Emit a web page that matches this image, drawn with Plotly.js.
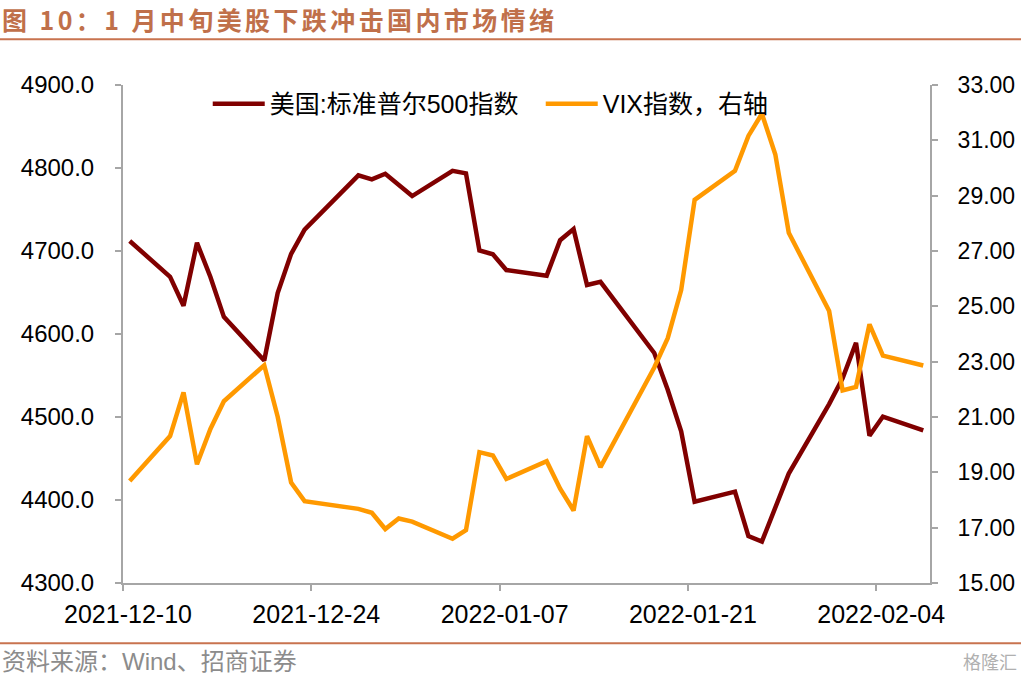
<!DOCTYPE html>
<html>
<head>
<meta charset="utf-8">
<script src="https://cdn.plot.ly/plotly-3.0.1.min.js"></script>
<style>html,body{margin:0;padding:0;background:#fff;}#chart{width:1021px;height:676px;}</style>
</head>
<body>
<div id="chart"></div>
<script>
// Trading days shown in the chart
const dates = [
  '2021-12-10','2021-12-13','2021-12-14','2021-12-15','2021-12-16','2021-12-17',
  '2021-12-20','2021-12-21','2021-12-22','2021-12-23','2021-12-27','2021-12-28',
  '2021-12-29','2021-12-30','2021-12-31','2022-01-03','2022-01-04','2022-01-05',
  '2022-01-06','2022-01-07','2022-01-10','2022-01-11','2022-01-12','2022-01-13',
  '2022-01-14','2022-01-18','2022-01-19','2022-01-20','2022-01-21','2022-01-24',
  '2022-01-25','2022-01-26','2022-01-27','2022-01-28','2022-01-31','2022-02-01',
  '2022-02-02','2022-02-03','2022-02-04','2022-02-07'
];
// 美国:标准普尔500指数 (left axis)
const spx = [
  4712.02, 4668.97, 4634.09, 4709.85, 4668.67, 4620.64,
  4568.02, 4649.23, 4696.56, 4725.79, 4791.19, 4786.35,
  4793.06, 4778.73, 4766.18, 4796.56, 4793.54, 4700.58,
  4696.05, 4677.03, 4670.29, 4713.07, 4726.35, 4659.03,
  4662.85, 4577.11, 4532.76, 4482.73, 4397.94, 4410.13,
  4356.45, 4349.93, null, 4431.85, 4515.55, 4546.54,
  4589.38, 4477.44, 4500.53, 4483.87
];
// VIX指数 (right axis)
const vix = [
  18.69, 20.31, 21.89, 19.29, 20.57, 21.57,
  22.87, 21.01, 18.63, 17.96, 17.68, 17.54,
  16.95, 17.33, 17.22, 16.60, 16.91, 19.73,
  19.61, 18.76, 19.40, 18.41, 17.62, 20.31,
  19.19, 22.79, 23.85, 25.59, 28.85, 29.90,
  31.16, 31.96, 30.49, 27.66, 24.83, 21.96,
  22.09, 24.35, 23.22, 22.86
];
const tickDates = ['2021-12-10','2021-12-24','2022-01-07','2022-01-21','2022-02-04'];
const seriesNames = ['美国:标准普尔500指数', 'VIX指数，右轴'];
const titleText = '图 10：1 月中旬美股下跌冲击国内市场情绪';
const sourceText = '资料来源：Wind、招商证券';

// points sit in the middle of each day slot (Excel date-axis style)
const xMid = dates.map(d => d + ' 12:00');

const numFont = 'Liberation Sans, Arial, Noto Sans CJK SC, sans-serif';
const cjkFont = 'Liberation Sans, Noto Sans CJK SC, sans-serif';
const axisGray = '#A6A6A6';

const traces = [
  {x: xMid, y: spx, name: seriesNames[0], type: 'scatter', mode: 'lines',
   connectgaps: true, line: {color: '#800000', width: 4.5}, yaxis: 'y'},
  {x: xMid, y: vix, name: seriesNames[1], type: 'scatter', mode: 'lines',
   line: {color: '#FF9900', width: 4.5}, yaxis: 'y2'}
];

const layout = {
  width: 1021, height: 676,
  margin: {l: 123, r: 91, t: 85, b: 93, pad: 0},
  paper_bgcolor: '#fff', plot_bgcolor: '#fff',
  showlegend: true,
  title: {
    text: '<span style="letter-spacing:3.4px">' + titleText + '</span>',
    xref: 'container', x: 0.002, xanchor: 'left',
    yref: 'container', y: 0.969, yanchor: 'middle',
    font: {family: 'Noto Sans CJK SC, sans-serif', size: 25, color: '#C0704A', weight: 700}
  },
  legend: {
    orientation: 'h', x: 0.105, xanchor: 'left', y: 0.962, yanchor: 'middle',
    font: {family: cjkFont, size: 25, color: '#000'}, bgcolor: 'rgba(0,0,0,0)',
    itemwidth: 52, entrywidth: 266, traceorder: 'normal'
  },
  xaxis: {
    type: 'date', range: ['2021-12-10', '2022-02-08'],
    tickmode: 'array', tickvals: tickDates, tickformat: '%Y-%m-%d',
    ticks: 'outside', ticklen: 6, tickwidth: 2, tickcolor: axisGray,
    showline: true, linecolor: axisGray, linewidth: 2,
    showgrid: false, zeroline: false, ticklabelstandoff: 2, ticklabelshift: 5,
    tickfont: {family: numFont, size: 25, color: '#000'}
  },
  yaxis: {
    range: [4300, 4900], dtick: 100, tick0: 4300, tickformat: '.1f',
    ticks: 'outside', ticklen: 6, tickwidth: 2, tickcolor: axisGray,
    showline: true, linecolor: axisGray, linewidth: 2,
    showgrid: false, zeroline: false, ticklabelstandoff: 16,
    tickfont: {family: numFont, size: 24, color: '#000'}
  },
  yaxis2: {
    overlaying: 'y', side: 'right',
    range: [15, 33], dtick: 2, tick0: 15, tickformat: '.2f',
    ticks: 'outside', ticklen: 6, tickwidth: 2, tickcolor: axisGray,
    showline: true, linecolor: axisGray, linewidth: 2,
    showgrid: false, zeroline: false, ticklabelstandoff: 15,
    tickfont: {family: numFont, size: 23, color: '#000'}
  },
  shapes: [
    {type: 'line', xref: 'paper', yref: 'paper', x0: -0.16, x1: 1.12, y0: 1.092, y1: 1.092,
     line: {color: '#C8734F', width: 2}},
    {type: 'line', xref: 'paper', yref: 'paper', x0: -0.16, x1: 1.12, y0: -0.121, y1: -0.121,
     line: {color: '#C8734F', width: 2}}
  ],
  annotations: [
    {text: sourceText, xref: 'paper', yref: 'paper', x: -0.152, xanchor: 'left',
     y: -0.157, yanchor: 'middle', showarrow: false,
     font: {family: cjkFont, size: 24, color: '#8C8C8C'}},
    {text: '格隆汇', xref: 'paper', yref: 'paper', x: 1.11, xanchor: 'right',
     y: -0.157, yanchor: 'middle', showarrow: false,
     font: {family: 'Noto Sans CJK SC, sans-serif', size: 18, color: '#B0B0B0'}}
  ]
};

Plotly.newPlot('chart', traces, layout, {displayModeBar: false, staticPlot: true});
</script>
</body>
</html>
